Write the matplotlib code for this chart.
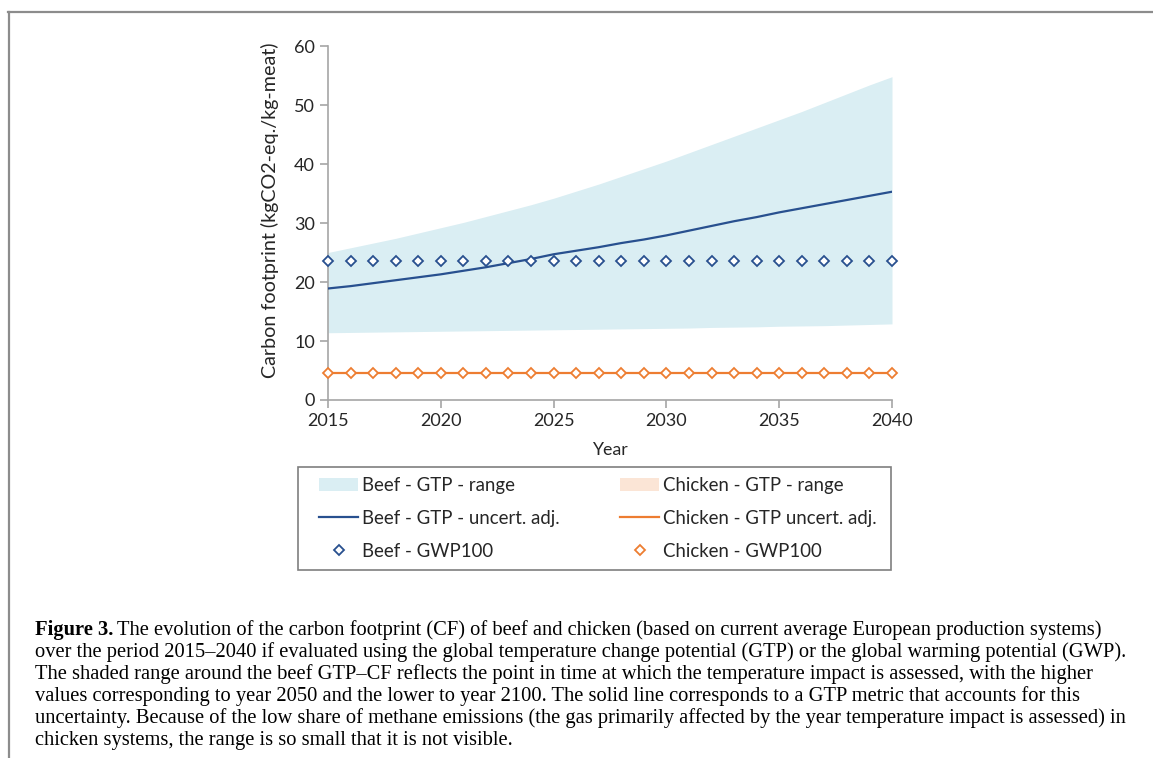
import matplotlib
matplotlib.use("Agg")
import matplotlib.pyplot as plt
from matplotlib.lines import Line2D
from matplotlib.patches import Patch, Rectangle

years = list(range(2015, 2041))
beef_gtp_high = [25.0, 25.8, 26.6, 27.4, 28.3, 29.2, 30.1, 31.1, 32.1, 33.1, 34.2,
                 35.4, 36.6, 37.9, 39.2, 40.5, 41.9, 43.3, 44.7, 46.1, 47.5,
                 48.9, 50.4, 51.9, 53.4, 54.8]
beef_gtp_low = [11.4, 11.45, 11.5, 11.55, 11.6, 11.65, 11.7, 11.75, 11.8, 11.85, 11.9,
                11.95, 12.0, 12.05, 12.1, 12.15, 12.2, 12.3, 12.35, 12.4, 12.5,
                12.55, 12.6, 12.7, 12.8, 12.9]
beef_gtp_adj = [18.9, 19.3, 19.8, 20.3, 20.8, 21.3, 21.9, 22.5, 23.2, 23.9, 24.7,
                25.3, 25.9, 26.6, 27.2, 27.9, 28.7, 29.5, 30.3, 31.0, 31.8,
                32.5, 33.2, 33.9, 34.6, 35.3]
beef_gwp100 = [23.5] * 26
chicken_gtp_high = [4.65] * 26
chicken_gtp_low = [4.55] * 26
chicken_gtp_adj = [4.6] * 26
chicken_gwp100 = [4.6] * 26

x_ticks = [2015, 2020, 2025, 2030, 2035, 2040]
y_ticks = [0, 10, 20, 30, 40, 50, 60]

legend_beef = ["Beef - GTP - range", "Beef - GTP - uncert. adj.", "Beef - GWP100"]
legend_chicken = ["Chicken - GTP - range", "Chicken - GTP uncert. adj.", "Chicken - GWP100"]

caption_bold = "Figure 3."
caption = [
    "The evolution of the carbon footprint (CF) of beef and chicken (based on current average European production systems)",
    "over the period 2015\u20132040 if evaluated using the global temperature change potential (GTP) or the global warming potential (GWP).",
    "The shaded range around the beef GTP\u2013CF reflects the point in time at which the temperature impact is assessed, with the higher",
    "values corresponding to year 2050 and the lower to year 2100. The solid line corresponds to a GTP metric that accounts for this",
    "uncertainty. Because of the low share of methane emissions (the gas primarily affected by the year temperature impact is assessed) in",
    "chicken systems, the range is so small that it is not visible.",
]

C_FILL = "#DAEEF3"
C_BEEF = "#28508F"
C_ORANGE = "#ED7D31"
C_PEACH = "#FBE5D6"
C_AX = "#A6A6A6"
C_TXT = "#262626"

plt.rcParams['font.family'] = ['Lato', 'DejaVu Sans']

W, H = 1153, 758
fig = plt.figure(figsize=(W/100, H/100), dpi=100)
ax = fig.add_axes([328/W, 1-400/H, (892-328)/W, (400-46)/H])

ax.fill_between(years, beef_gtp_low, beef_gtp_high, color=C_FILL, lw=0, zorder=1)
ax.fill_between(years, chicken_gtp_low, chicken_gtp_high, color=C_PEACH, lw=0, zorder=1)
ax.plot(years, beef_gtp_adj, color=C_BEEF, lw=1.6, zorder=3)
ax.plot(years, chicken_gtp_adj, color=C_ORANGE, lw=1.6, zorder=3)
mk = dict(ls='none', marker='D', ms=5.4, mfc='white', mew=1.3, clip_on=False, zorder=4)
ax.plot(years, beef_gwp100, mec=C_BEEF, **mk)
ax.plot(years, chicken_gwp100, mec=C_ORANGE, **mk)

ax.set_xlim(2015, 2040)
ax.set_ylim(0, 60)
ax.set_xticks(x_ticks)
ax.set_yticks(y_ticks)
for s in ['top', 'right']:
    ax.spines[s].set_visible(False)
for s in ['left', 'bottom']:
    ax.spines[s].set_color(C_AX)
    ax.spines[s].set_linewidth(1.2)
ax.tick_params(axis='both', colors=C_AX, labelcolor=C_TXT, labelsize=13, length=6, width=1.2, direction='out')
ax.set_xlabel("Year", fontsize=12.8, color=C_TXT, labelpad=9)
ax.set_ylabel("Carbon footprint (kgCO2-eq./kg-meat)", fontsize=14.2, color=C_TXT)
ax.yaxis.set_label_coords(-0.087, 0.537)

# Legend (two columns, drawn as two frameless legends inside one frame)
leg_fs = 13.4
beef_handles = [
    Patch(facecolor=C_FILL, edgecolor='none'),
    Line2D([], [], color=C_BEEF, lw=1.6),
    Line2D([], [], ls='none', marker='D', ms=5.4, mfc='white', mec=C_BEEF, mew=1.3),
]
chicken_handles = [
    Patch(facecolor=C_PEACH, edgecolor='none'),
    Line2D([], [], color=C_ORANGE, lw=1.6),
    Line2D([], [], ls='none', marker='D', ms=5.4, mfc='white', mec=C_ORANGE, mew=1.3),
]
common = dict(loc='upper left', fontsize=leg_fs, frameon=False, handlelength=2.1,
              handletextpad=0.2, labelspacing=0.86, borderpad=0, borderaxespad=0)
l1 = fig.legend(beef_handles, legend_beef, bbox_to_anchor=(319/W, 1-477/H), **common)
l2 = fig.legend(chicken_handles, legend_chicken, bbox_to_anchor=(620/W, 1-477/H), **common)
for lg in (l1, l2):
    for t in lg.get_texts():
        t.set_color(C_TXT)
fig.add_artist(Rectangle((298/W, 1-570/H), (891-298)/W, (570-467)/H, transform=fig.transFigure,
                         facecolor='none', edgecolor='#7F7F7F', lw=1.2))

# Frame lines
fig.add_artist(Line2D([8/W, 1.0], [1-12/H, 1-12/H], color='#8C8C8C', lw=1.6, transform=fig.transFigure))
fig.add_artist(Line2D([9/W, 9/W], [1-12/H, 0.0], color='#8C8C8C', lw=1.6, transform=fig.transFigure))

# Caption
serif = ['Liberation Serif', 'DejaVu Serif']
cap_fs = 14.75
x0 = 35/W
line_ys = [630, 652, 674, 696, 718, 741]
fig.canvas.draw()
renderer = fig.canvas.get_renderer()
bold = fig.text(x0, 1-line_ys[0]/H, caption_bold, family=serif, weight='bold', fontsize=cap_fs,
                va='center', ha='left', color='black')
bb = bold.get_window_extent(renderer=renderer)
fig.text(bb.x1/fig.bbox.width + 4/W, 1-line_ys[0]/H, caption[0], family=serif, fontsize=cap_fs,
         va='center', ha='left', color='black')
for i in range(1, len(caption)):
    fig.text(x0, 1-line_ys[i]/H, caption[i], family=serif, fontsize=cap_fs,
             va='center', ha='left', color='black')

fig.savefig("out.png", dpi=100)
